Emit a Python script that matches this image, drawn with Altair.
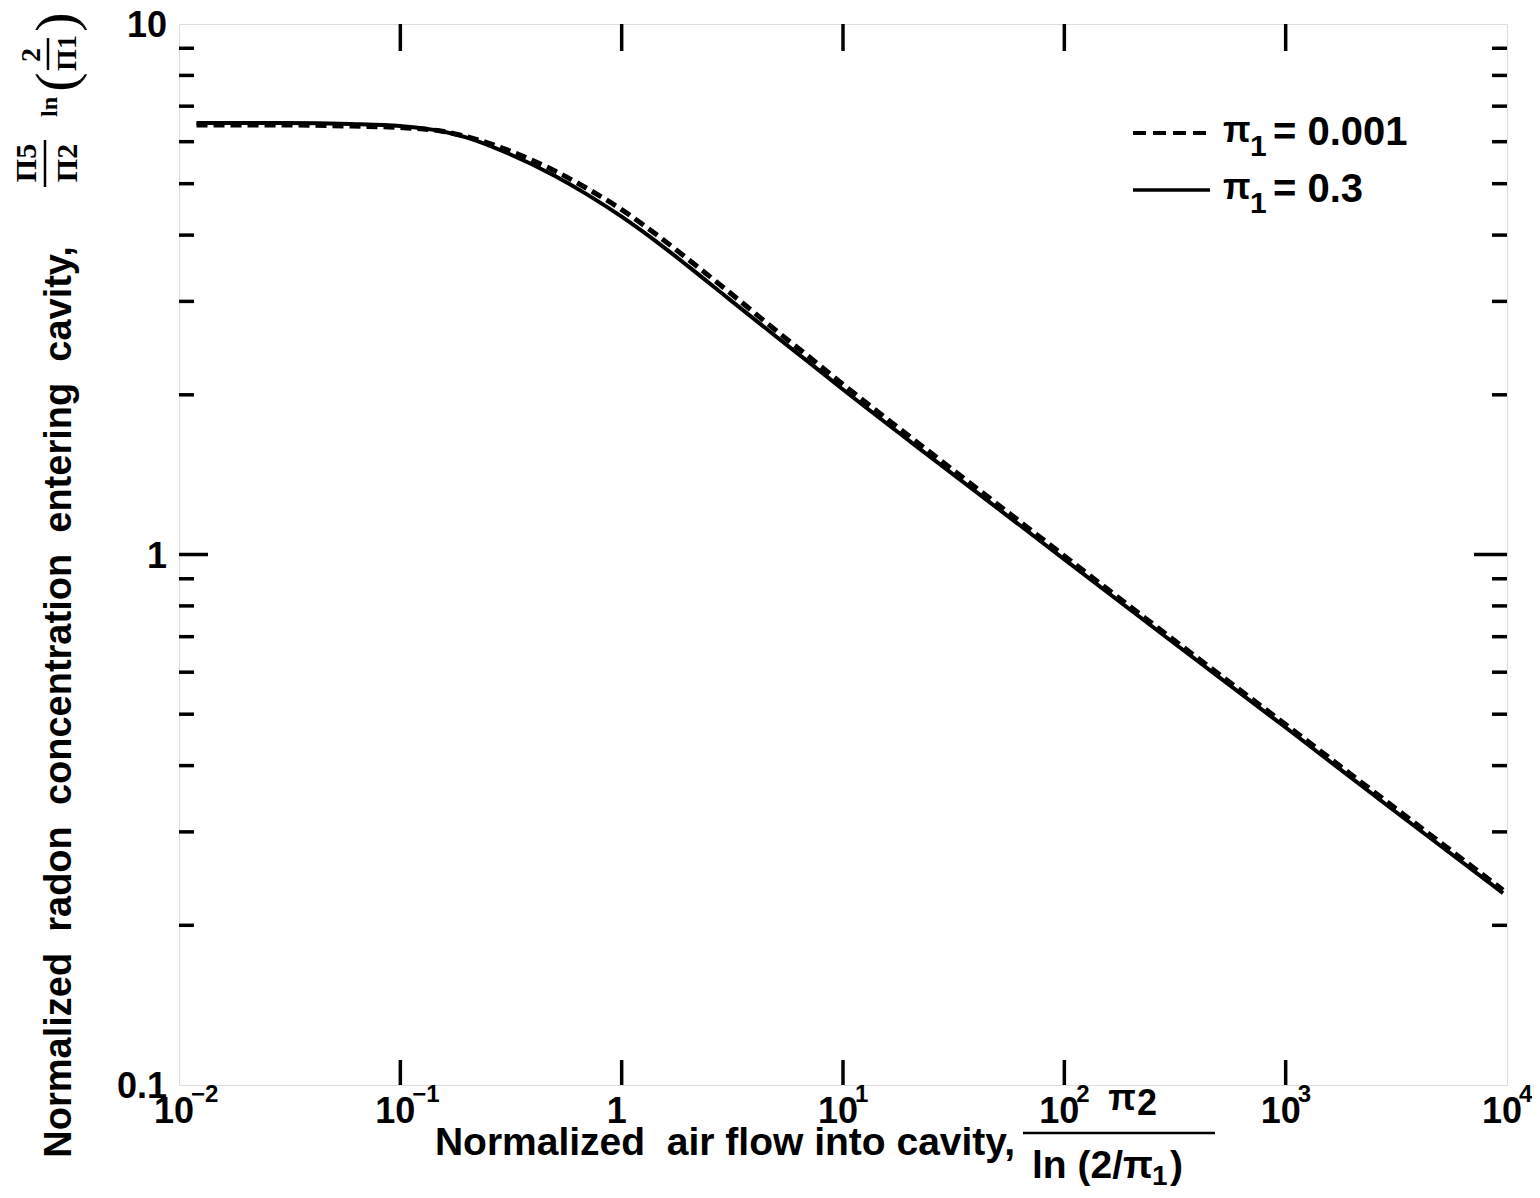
import altair as alt
import pandas as pd

# ---------------- data ----------------
x_flow = [0.012, 0.03, 0.06, 0.1, 0.15, 0.2, 0.3, 0.5, 0.7, 1, 1.5, 2, 3, 5, 7,
          10, 20, 50, 100, 300, 1000, 3000, 9600]
conc_pi1_0_3 = [6.51, 6.51, 6.48, 6.42, 6.29, 6.107, 5.726, 5.170, 4.769, 4.333, 3.835,
                3.493, 3.050, 2.573, 2.305, 2.047, 1.636, 1.222, 0.979, 0.690, 0.472,
                0.332, 0.230]
conc_pi1_0_001 = [6.45, 6.45, 6.42, 6.38, 6.29, 6.134, 5.801, 5.283, 4.895, 4.467, 3.954,
                  3.600, 3.144, 2.641, 2.361, 2.093, 1.669, 1.243, 0.994, 0.699, 0.478,
                  0.337, 0.233]

x_ticks = [0.01, 0.1, 1, 10, 100, 1000, 10000]
x_tick_base = ["10", "10", "1", "10", "10", "10", "10"]
x_tick_exp = ["−2", "−1", "", "1", "2", "3", "4"]
y_ticks = [0.1, 1, 10]
y_tick_labels = ["0.1", "1", "10"]
y_minor = [0.2, 0.3, 0.4, 0.5, 0.6, 0.7, 0.8, 0.9, 2, 3, 4, 5, 6, 7, 8, 9]

# ---------------- layout ----------------
W, H = 1328, 1061
SANS = "Liberation Sans, Arial, Helvetica, sans-serif"
SERIF = "Liberation Serif, DejaVu Serif, serif"
NB = "\u00a0 "  # wide word gap (kept by SVG)

xscale = alt.Scale(type="log", domain=[0.01, 10000], nice=False)
yscale = alt.Scale(type="log", domain=[0.1, 10], nice=False)

df_solid = pd.DataFrame({"x": x_flow, "y": conc_pi1_0_3})
df_dash = pd.DataFrame({"x": x_flow, "y": conc_pi1_0_001})

solid = alt.Chart(df_solid).mark_line(color="black", strokeWidth=4, interpolate="monotone").encode(
    x=alt.X("x:Q", scale=xscale, axis=None),
    y=alt.Y("y:Q", scale=yscale, axis=None),
)
dashed = alt.Chart(df_dash).mark_line(color="black", strokeWidth=5, strokeDash=[11, 6],
                                      interpolate="monotone").encode(
    x=alt.X("x:Q", scale=xscale, axis=None),
    y=alt.Y("y:Q", scale=yscale, axis=None),
)

# ---------------- inward ticks ----------------
df_xt = pd.DataFrame({"v": x_ticks[1:-1]})
df_ymin = pd.DataFrame({"v": y_minor})
df_ymaj = pd.DataFrame({"v": [1]})

def xtick(y0, y1):
    return alt.Chart(df_xt).mark_rule(color="black", strokeWidth=3.5).encode(
        x=alt.X("v:Q", scale=xscale, axis=None), y=alt.value(y0), y2=alt.value(y1))

def ytick(df, x0, x1):
    return alt.Chart(df).mark_rule(color="black", strokeWidth=3.5).encode(
        y=alt.Y("v:Q", scale=yscale, axis=None), x=alt.value(x0), x2=alt.value(x1))

ticks = [
    xtick(H, H - 25), xtick(0, 27),
    ytick(df_ymin, 0, 15), ytick(df_ymaj, 0, 29),
    ytick(df_ymin, W - 15, W), ytick(df_ymaj, W - 33, W),
]

# ---------------- tick labels ----------------
df_xl = pd.DataFrame({"v": x_ticks, "base": x_tick_base, "exp": x_tick_exp})
df_yl = pd.DataFrame({"v": y_ticks, "lab": y_tick_labels})

xl_base = alt.Chart(df_xl).mark_text(font=SANS, fontSize=36, fontWeight="bold", color="black",
                                     align="center", baseline="middle", dx=-5).encode(
    x=alt.X("v:Q", scale=xscale, axis=None), y=alt.value(H + 27), text="base:N")
xl_exp = alt.Chart(df_xl).mark_text(font=SANS, fontSize=24, fontWeight="bold", color="black",
                                    align="left", baseline="middle", dx=12).encode(
    x=alt.X("v:Q", scale=xscale, axis=None), y=alt.value(H + 10), text="exp:N")
yl = alt.Chart(df_yl).mark_text(font=SANS, fontSize=36, fontWeight="bold", color="black",
                                align="right", baseline="middle", dx=-12, dy=2).encode(
    y=alt.Y("v:Q", scale=yscale, axis=None), x=alt.value(0), text="lab:N")

# ---------------- text helpers ----------------
one = pd.DataFrame({"k": [0]})

def txt(text, x, y, size, font=SANS, align="center", baseline="middle", angle=0, weight="bold"):
    kw = dict(text=text, font=font, fontSize=size, fontWeight=weight, align=align,
              baseline=baseline, color="black")
    if angle:
        kw["angle"] = angle
    return alt.Chart(one).mark_text(**kw).encode(x=alt.value(x), y=alt.value(y))

def hline(x0, x1, y, width=3, dash=None):
    kw = dict(color="black", strokeWidth=width)
    if dash:
        kw["strokeDash"] = dash
    return alt.Chart(one).mark_rule(**kw).encode(x=alt.value(x0), x2=alt.value(x1), y=alt.value(y))

def vline(x, y0, y1, width=3):
    return alt.Chart(one).mark_rule(color="black", strokeWidth=width).encode(
        x=alt.value(x), y=alt.value(y0), y2=alt.value(y1))

# plot area origin on the page
OX, OY = 179, 24

texts = [
    # x-axis title
    txt("Normalized" + NB + "air flow into cavity,", 1015 - OX, 1143 - OY, 39, align="right"),
    txt("π", 1122 - OX, 1099 - OY, 36),
    txt("2", 1147 - OX, 1104 - OY, 36),
    hline(1023 - OX, 1215 - OX, 1133 - OY, width=2.5),
    txt("ln (2/π", 1032 - OX, 1166 - OY, 39, align="left"),
    txt("1", 1152 - OX, 1177 - OY, 28, align="left"),
    txt(")", 1170 - OX, 1166 - OY, 39, align="left"),
    # y-axis title
    txt("Normalized" + NB + "radon" + NB + "concentration" + NB + "entering" + NB + "cavity,",
        60 - OX, 702 - OY, 38, angle=270),
    txt("Π5", 27 - OX, 163 - OY, 30, font=SERIF, angle=270),
    vline(45 - OX, 140 - OY, 187 - OY, width=2.5),
    txt("Π2", 68 - OX, 163 - OY, 30, font=SERIF, angle=270),
    txt("ln", 50 - OX, 107 - OY, 24, font=SERIF, angle=270),
    txt("(", 58 - OX, 82 - OY, 58, font=SERIF, angle=270, weight="normal"),
    txt("2", 32 - OX, 55 - OY, 28, font=SERIF, angle=270),
    vline(48 - OX, 38 - OY, 70 - OY, width=2.5),
    txt("Π1", 68 - OX, 53 - OY, 28, font=SERIF, angle=270),
    txt(")", 58 - OX, 22 - OY, 58, font=SERIF, angle=270, weight="normal"),
    # legend
    hline(1133 - OX, 1210 - OX, 133 - OY, width=4, dash=[13, 7]),
    hline(1133 - OX, 1210 - OX, 190 - OY, width=3.5),
    txt("π", 1223 - OX, 131 - OY, 36, align="left"),
    txt("1", 1250 - OX, 147 - OY, 30, align="left"),
    txt("= 0.001", 1273 - OX, 133 - OY, 40, align="left"),
    txt("π", 1223 - OX, 188 - OY, 36, align="left"),
    txt("1", 1250 - OX, 204 - OY, 30, align="left"),
    txt("= 0.3", 1273 - OX, 190 - OY, 40, align="left"),
]

chart = alt.layer(solid, dashed, *ticks, xl_base, xl_exp, yl, *texts).properties(
    width=W, height=H,
    autosize=alt.AutoSizeParams(type="none"),
    padding={"left": 171, "top": 16, "right": 25, "bottom": 106},
).configure_view(stroke="black", strokeWidth=3.5).configure(background="white")

chart.save("out.html", embed_options={"renderer": "svg", "actions": False})
